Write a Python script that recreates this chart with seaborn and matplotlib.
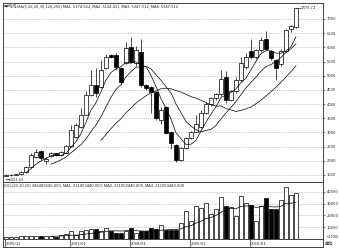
import numpy as np
import pandas as pd
import matplotlib
matplotlib.use("Agg")
import matplotlib.pyplot as plt
import seaborn as sns

# ---------------- data ----------------
months = [str(p) for p in pd.period_range("2005-12", periods=59, freq="M")]
opens = [1480, 1500, 1510, 1520, 1600, 1780, 2150, 2350, 1990, 2170,
         2270, 2200, 2280, 2520, 2850, 3190, 3620, 4320, 4670, 4600,
         5270, 5730, 5730, 5270, 5450, 6010, 5450, 5840, 4670, 4600,
         4430, 3440, 3900, 3020, 2560, 2030, 2450, 2800, 3020, 3200,
         3700, 4000, 4200, 4350, 4950, 4150, 4450, 4850, 5300, 5860,
         5650, 5900, 6300, 5860, 5560, 5400, 5880, 6650, 6720]
closes = [1500, 1510, 1520, 1600, 1780, 2200, 2300, 2100, 2050, 2260,
          2200, 2310, 2520, 3090, 3260, 3610, 4320, 4670, 4390, 5200,
          5660, 5660, 5310, 4780, 5980, 5480, 5910, 4670, 4570, 4430,
          3510, 3790, 2980, 2630, 2030, 2450, 2800, 3020, 3300, 3700,
          4000, 4200, 4350, 4900, 4150, 4450, 4850, 5450, 5664, 5650,
          5900, 6250, 5950, 5624, 5260, 5880, 6600, 6750, 7379.72]
highs = [1520, 1530, 1540, 1640, 1820, 2280, 2420, 2380, 2120, 2300,
         2290, 2330, 2560, 3250, 3330, 3850, 4450, 5200, 5280, 5550,
         5750, 5760, 5800, 5300, 6200, 6370, 6050, 6300, 4720, 4650,
         4460, 3900, 3950, 3050, 2600, 2480, 2850, 3060, 3610, 3800,
         4080, 4260, 4400, 5200, 5150, 4500, 4950, 5650, 5800, 6300,
         5950, 6350, 6580, 5900, 5600, 5950, 6650, 6800, 7379.72]
lows = [1460, 1480, 1490, 1500, 1580, 1760, 2100, 2030, 1890, 2140,
        2180, 2180, 2260, 2500, 2800, 3150, 3600, 4300, 4250, 4550,
        5230, 5620, 5200, 4700, 5400, 5450, 5350, 4600, 4500, 3700,
        3450, 3300, 2950, 2400, 1960, 1990, 2420, 2780, 3000, 3150,
        3650, 3950, 4150, 4300, 4050, 4100, 4400, 4800, 5250, 5600,
        5600, 5850, 5900, 5550, 4840, 5350, 5850, 6550, 6700]
volumes = [1500, 1500, 1600, 2700, 2700, 2800, 2800, 2500, 2600, 2600,
           2000, 3000, 4000, 6600, 3800, 6800, 8000, 8300, 8300, 6500,
           9700, 6500, 4800, 4800, 6700, 9000, 5500, 6500, 6700, 9700,
           8300, 12200, 7800, 7800, 7500, 13900, 24100, 15000, 28300, 26100,
           30500, 21400, 25000, 35300, 27800, 26800, 19400, 36700, 30500, 29000,
           15400, 28300, 34400, 25000, 25500, 33300, 44000, 37500, 38649]
price_ticks = [1500, 2000, 2500, 3000, 3500, 4000, 4500, 5000, 5500, 6000, 6500, 7000]
vol_ticks = [10000, 20000, 30000, 40000]
date_labels = ["2005/12", "2007/01", "2008/01", "2009/01", "2010/01"]
date_positions = [0, 13, 25, 37, 49]
price_header = "平均线 MA(5,10,20,30,120,250) MA1: 6374.522, MA2: 6124.411, MA3: 5347.912, MA4: 5347.912"
vol_header = "VOL(10,10,10) 386489600.000, MA1: 311053440.000, MA2: 311053440.000, MA3: 311053440.000"
max_label = "7379.72"
min_label = "←1001.63"

# ---------------- frame ----------------
df = pd.DataFrame({"month": months, "open": opens, "close": closes,
                   "high": highs, "low": lows, "volume": volumes})
df["idx"] = np.arange(len(df))
df["up"] = df["close"] >= df["open"]
for n in (5, 10, 20):
    df[f"ma{n}"] = df["close"].rolling(n).mean()
df["vma10"] = df["volume"].rolling(10).mean()

sns.set_style("white")
plt.rcParams["font.family"] = ["Noto Sans CJK SC", "DejaVu Sans"]
plt.rcParams["axes.linewidth"] = 0.6

W, H = 339, 250
fig = plt.figure(figsize=(W / 100, H / 100), dpi=100)
L, R = 3, 323
ax = fig.add_axes([L / W, 1 - 182 / H, (R - L) / W, 179 / H])
axv = fig.add_axes([L / W, 1 - 239 / H, (R - L) / W, 57 / H], sharex=ax)
axd = fig.add_axes([L / W, 1 - 247 / H, (R - L) / W, 8 / H], sharex=ax)

grid_kw = dict(color="#9a9a9a", lw=0.4, ls=(0, (2, 2)))

# ---- price panel ----
ax.vlines(df["idx"], df["low"], df["high"], color="black", lw=0.5, zorder=2)
up = df[df["up"]]
dn = df[~df["up"]]
ax.bar(up["idx"], up["close"] - up["open"], bottom=up["open"], width=0.7,
       facecolor="white", edgecolor="black", lw=0.5, zorder=3)
ax.bar(dn["idx"], dn["open"] - dn["close"], bottom=dn["close"], width=0.7,
       facecolor="black", edgecolor="black", lw=0.5, zorder=3)
for n in (5, 10, 20):
    sns.lineplot(data=df, x="idx", y=f"ma{n}", ax=ax, color="black", lw=0.5, zorder=4)

ax.set_xlim(-0.6, 63.4)
ax.set_ylim(7000 - (182 - 19) * 35.26, 7000 + 16 * 35.26)
ax.yaxis.tick_right()
ax.set_yticks(price_ticks)
ax.set_yticklabels([str(t) for t in price_ticks], fontsize=3)
ax.tick_params(axis="y", length=1.5, width=0.4, pad=1, right=True)
ax.tick_params(axis="x", bottom=False, labelbottom=False)
for t in price_ticks:
    ax.axhline(t, **grid_kw, zorder=0)
ax.set_xlabel("")
ax.set_ylabel("")
ax.text(0.004, 0.997, price_header, transform=ax.transAxes, va="top", ha="left", fontsize=3.0)
imax = int(np.argmax(df["high"]))
ax.plot([imax, imax + 0.9], [df["high"][imax], df["high"][imax]], color="black", lw=0.4)
ax.text(imax + 0.9, df["high"][imax], max_label, fontsize=3, va="center", ha="left")
ax.text(0.0, 1400, min_label, fontsize=2.8, va="top", ha="left")

# ---- volume panel ----
axv.bar(up["idx"], up["volume"], width=0.7, facecolor="white", edgecolor="black", lw=0.5, zorder=3)
axv.bar(dn["idx"], dn["volume"], width=0.7, facecolor="black", edgecolor="black", lw=0.5, zorder=3)
sns.lineplot(data=df, x="idx", y="vma10", ax=axv, color="black", lw=0.5, zorder=4)
axv.set_ylim(0, 48300)
axv.yaxis.tick_right()
axv.set_yticks(vol_ticks)
axv.set_yticklabels([str(t) for t in vol_ticks], fontsize=3)
axv.tick_params(axis="y", length=1.5, width=0.4, pad=1, right=True)
axv.tick_params(axis="x", bottom=False, labelbottom=False)
for t in vol_ticks:
    axv.axhline(t, **grid_kw, zorder=0)
axv.set_xlabel("")
axv.set_ylabel("")
axv.text(0.004, 0.985, vol_header, transform=axv.transAxes, va="top", ha="left", fontsize=3.0)

# ---- date strip ----
axd.set_yticks([])
axd.set_ylim(0, 1)
axd.tick_params(axis="x", bottom=False, labelbottom=False)
for p, lab in zip(date_positions, date_labels):
    axd.axvline(p - 0.3, color="black", lw=0.4)
    axd.text(p - 0.1, 0.45, lab, fontsize=3, va="center", ha="left")
axd.set_xlabel("")

fig.text(325 / W, 1 - 237 / H, "×10000", fontsize=2.6, va="center", ha="left")
fig.text(325 / W, 1 - 244 / H, "单位", fontsize=3, va="center", ha="left")

fig.savefig("out.png", dpi=100)
